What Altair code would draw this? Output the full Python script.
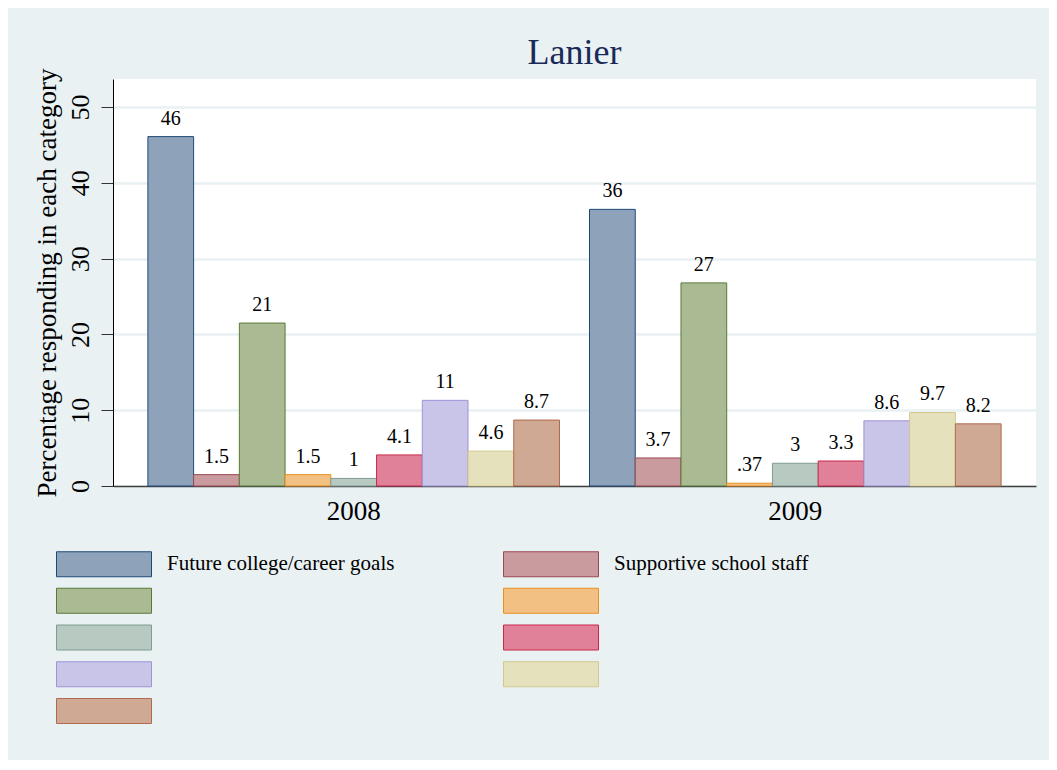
import altair as alt
import pandas as pd

years = ["2008", "2009"]
categories = [
    "Future college/career goals",
    "Supportive school staff",
    "Category 3",
    "Category 4",
    "Category 5",
    "Category 6",
    "Category 7",
    "Category 8",
    "Category 9",
]
shown_legend_labels = ["Future college/career goals", "Supportive school staff"]
values_2008 = [46.1, 1.5, 21.5, 1.5, 1.0, 4.1, 11.3, 4.6, 8.7]
values_2009 = [36.5, 3.7, 26.8, 0.37, 3.0, 3.3, 8.6, 9.7, 8.2]
labels_2008 = ["46", "1.5", "21", "1.5", "1", "4.1", "11", "4.6", "8.7"]
labels_2009 = ["36", "3.7", "27", ".37", "3", "3.3", "8.6", "9.7", "8.2"]
fill_colors = ["#8ea3b9", "#c99a9e", "#aabb94", "#f2c082", "#b8c9c2",
               "#e08199", "#c8c5e8", "#e5e1bd", "#d0a994"]
stroke_colors = ["#1f4a78", "#9a4a52", "#5a7a38", "#e8901e", "#7e9c92",
                 "#c8284a", "#9c94d8", "#d2c88e", "#b06a4c"]

rows = []
for y, vals, labs in [("2008", values_2008, labels_2008), ("2009", values_2009, labels_2009)]:
    for c, v, l in zip(categories, vals, labs):
        rows.append({"year": y, "cat": c, "value": v, "label": l})
df = pd.DataFrame(rows)

font = "Liberation Serif, Times New Roman, DejaVu Serif, serif"
grid_col = "#e9f1f3"

x_enc = alt.X("year:N", sort=years, title=None,
              scale=alt.Scale(paddingInner=0.068, paddingOuter=0.079),
              axis=alt.Axis(labelAngle=0, labelFontSize=27, labelFont=font,
                            labelColor="#000000", ticks=False, labelPadding=12,
                            domainColor="#404040", domainWidth=1.5))
xo_enc = alt.XOffset("cat:N", sort=categories,
                     scale=alt.Scale(paddingInner=0, paddingOuter=0))
y_enc = alt.Y("value:Q", title="Percentage responding in each category",
              scale=alt.Scale(domain=[0, 53.7], nice=False),
              axis=alt.Axis(values=[0, 10, 20, 30, 40, 50], labelAngle=-90,
                            labelFontSize=26, labelFont=font, labelColor="#000000",
                            tickSize=12, tickColor="#333333", tickWidth=1,
                            domainColor="#000000", domainWidth=1,
                            gridColor=grid_col, gridWidth=2.5,
                            labelPadding=8, titleFont=font, titleFontSize=27,
                            titleFontWeight="normal", titleColor="#000000",
                            titlePadding=6))

legend_expr = "indexof([" + ",".join("'" + s.replace("'", "\\'") + "'" for s in shown_legend_labels) + "], datum.label) >= 0 ? datum.label : ''"

legend = alt.Legend(
    title=None, orient="none", direction="horizontal", legendX=-22, legendY=472,
    columns=2,
    symbolType="M-3.8,-1H3.8V1H-3.8Z", symbolSize=625, symbolStrokeWidth=1,
    labelFont=font, labelFontSize=21, labelColor="#000000", labelOffset=50,
    rowPadding=6.75, columnPadding=106, labelExpr=legend_expr, labelLimit=400,
    gridAlign="all",
)

bars = alt.Chart(df).mark_bar(strokeWidth=1).encode(
    x=x_enc,
    xOffset=xo_enc,
    y=y_enc,
    fill=alt.Fill("cat:N", sort=categories,
                  scale=alt.Scale(domain=categories, range=fill_colors), legend=legend),
    stroke=alt.Stroke("cat:N", sort=categories,
                      scale=alt.Scale(domain=categories, range=stroke_colors), legend=legend),
)

texts = alt.Chart(df).mark_text(baseline="alphabetic", dy=-12, font=font,
                                fontSize=20, color="#000000").encode(
    x=alt.X("year:N", sort=years),
    xOffset=alt.XOffset("cat:N", sort=categories),
    y=alt.Y("value:Q"),
    text="label:N",
)

chart = alt.layer(bars, texts).properties(
    width=923, height=407,
    title=alt.TitleParams("Lanier", font=font, fontSize=36, color="#1a2a58",
                          fontWeight="normal", anchor="middle", offset=5,
                          frame="group", dy=9),
    background="#e9f1f3",
    padding={"left": 105, "top": 71, "right": 13, "bottom": 274},
    autosize=alt.AutoSizeParams(type="none"),
).configure_view(fill="#ffffff", stroke=None)

chart.save("out.html", embed_options={"renderer": "svg", "actions": False})
